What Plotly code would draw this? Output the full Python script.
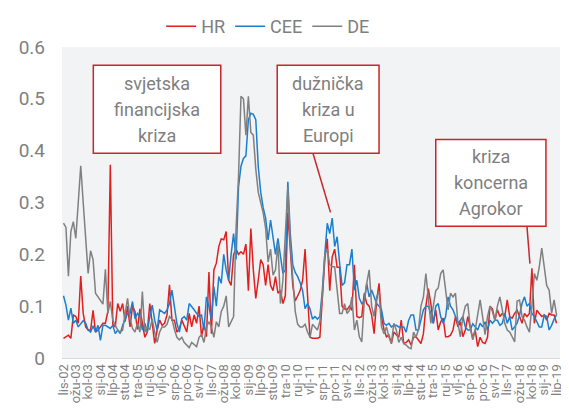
import plotly.graph_objects as go

tick_labels = ["lis-02", "ožu-03", "kol-03", "sij-04", "lip-04", "stu-04", "tra-05", "ruj-05",
               "vlj-06", "srp-06", "pro-06", "svi-07", "lis-07", "ožu-08", "kol-08", "sij-09",
               "lip-09", "stu-09", "tra-10", "ruj-10", "vlj-11", "srp-11", "pro-11", "svi-12",
               "lis-12", "ožu-13", "kol-13", "sij-14", "lip-14", "stu-14", "tra-15", "ruj-15",
               "vlj-16", "srp-16", "pro-16", "svi-17", "lis-17", "ožu-18", "kol-18", "sij-19",
               "lip-19"]

hr = [0.038, 0.041, 0.044, 0.038, 0.083, 0.080, 0.067, 0.158, 0.086, 0.060,
      0.054, 0.054, 0.092, 0.050, 0.054, 0.060, 0.067, 0.067, 0.090, 0.373,
      0.065, 0.060, 0.105, 0.090, 0.105, 0.070, 0.100, 0.060, 0.100, 0.090,
      0.055, 0.095, 0.065, 0.040, 0.050, 0.105, 0.067, 0.028, 0.054, 0.073,
      0.063, 0.067, 0.083, 0.141, 0.073, 0.073, 0.050, 0.057, 0.073, 0.060,
      0.050, 0.086, 0.060, 0.083, 0.067, 0.100, 0.041, 0.067, 0.041, 0.166,
      0.047, 0.170, 0.183, 0.215, 0.230, 0.228, 0.244, 0.150, 0.140, 0.200,
      0.210, 0.200, 0.205, 0.200, 0.220, 0.130, 0.250, 0.170, 0.115, 0.150,
      0.190, 0.180, 0.140, 0.180, 0.140, 0.130, 0.157, 0.125, 0.130, 0.105,
      0.120, 0.280, 0.200, 0.140, 0.110, 0.120, 0.130, 0.150, 0.210, 0.120,
      0.040, 0.038, 0.038, 0.038, 0.040, 0.125, 0.190, 0.230, 0.130, 0.195,
      0.210, 0.175, 0.175, 0.100, 0.095, 0.093, 0.100, 0.092, 0.180, 0.080,
      0.078, 0.080, 0.125, 0.105, 0.100, 0.083, 0.047, 0.110, 0.144, 0.080,
      0.055, 0.041, 0.044, 0.028, 0.050, 0.045, 0.040, 0.073, 0.028, 0.030,
      0.035, 0.025, 0.040, 0.041, 0.035, 0.028, 0.047, 0.100, 0.134, 0.105,
      0.067, 0.093, 0.054, 0.070, 0.077, 0.041, 0.041, 0.044, 0.054, 0.080,
      0.060, 0.070, 0.041, 0.054, 0.080, 0.060, 0.038, 0.054, 0.022, 0.040,
      0.030, 0.028, 0.040, 0.100, 0.095, 0.073, 0.093, 0.080, 0.086, 0.080,
      0.112, 0.080, 0.077, 0.086, 0.092, 0.080, 0.067, 0.086, 0.080, 0.086,
      0.173, 0.067, 0.092, 0.086, 0.080, 0.083, 0.073, 0.086, 0.083, 0.083,
      0.067]

cee = [0.120, 0.102, 0.073, 0.096, 0.067, 0.073, 0.060, 0.067, 0.072, 0.067,
       0.054, 0.050, 0.062, 0.050, 0.063, 0.034, 0.063, 0.063, 0.060, 0.057,
       0.063, 0.047, 0.054, 0.047, 0.063, 0.073, 0.086, 0.086, 0.109, 0.076,
       0.086, 0.080, 0.054, 0.067, 0.050, 0.080, 0.102, 0.073, 0.054, 0.093,
       0.090, 0.086, 0.093, 0.105, 0.131, 0.100, 0.067, 0.050, 0.076, 0.080,
       0.073, 0.105, 0.100, 0.093, 0.086, 0.080, 0.083, 0.054, 0.118, 0.100,
       0.073, 0.138, 0.100, 0.157, 0.144, 0.200, 0.170, 0.150, 0.200, 0.240,
       0.190, 0.330, 0.370, 0.385, 0.390, 0.460, 0.472, 0.470, 0.460, 0.370,
       0.320, 0.290, 0.270, 0.228, 0.266, 0.228, 0.200, 0.231, 0.200, 0.163,
       0.170, 0.340, 0.240, 0.180, 0.165, 0.157, 0.145, 0.130, 0.095, 0.105,
       0.095, 0.075, 0.080, 0.075, 0.080, 0.130, 0.200, 0.260, 0.240, 0.270,
       0.215, 0.234, 0.183, 0.140, 0.145, 0.180, 0.180, 0.210, 0.131, 0.150,
       0.115, 0.105, 0.108, 0.144, 0.118, 0.131, 0.118, 0.105, 0.100, 0.093,
       0.067, 0.063, 0.067, 0.060, 0.063, 0.063, 0.060, 0.060, 0.060, 0.050,
       0.073, 0.083, 0.083, 0.054, 0.054, 0.073, 0.093, 0.100, 0.100, 0.086,
       0.067, 0.100, 0.105, 0.080, 0.067, 0.080, 0.118, 0.100, 0.093, 0.080,
       0.067, 0.073, 0.080, 0.060, 0.054, 0.054, 0.066, 0.060, 0.054, 0.067,
       0.060, 0.070, 0.054, 0.073, 0.067, 0.073, 0.073, 0.063, 0.067, 0.086,
       0.067, 0.080, 0.054, 0.060, 0.067, 0.083, 0.105, 0.118, 0.100, 0.105,
       0.086, 0.080, 0.070, 0.060, 0.060, 0.083, 0.080, 0.054, 0.063, 0.075,
       0.083]

de = [0.260, 0.252, 0.158, 0.244, 0.263, 0.231, 0.300, 0.371, 0.300, 0.240,
      0.163, 0.207, 0.190, 0.125, 0.118, 0.112, 0.104, 0.171, 0.086, 0.109,
      0.073, 0.063, 0.054, 0.050, 0.054, 0.086, 0.115, 0.076, 0.057, 0.050,
      0.067, 0.050, 0.128, 0.050, 0.060, 0.055, 0.075, 0.050, 0.030, 0.050,
      0.060, 0.060, 0.065, 0.080, 0.075, 0.055, 0.040, 0.035, 0.040, 0.030,
      0.025, 0.020, 0.030, 0.025, 0.022, 0.040, 0.045, 0.030, 0.060, 0.070,
      0.060, 0.040, 0.070, 0.060, 0.090, 0.100, 0.120, 0.060, 0.070, 0.080,
      0.250, 0.350, 0.505, 0.500, 0.430, 0.505, 0.435, 0.430, 0.365, 0.320,
      0.300, 0.280, 0.250, 0.185, 0.210, 0.160, 0.170, 0.220, 0.105, 0.150,
      0.240, 0.330, 0.220, 0.150, 0.090, 0.065, 0.060, 0.060, 0.065, 0.050,
      0.040, 0.065, 0.060, 0.054, 0.070, 0.120, 0.200, 0.210, 0.180, 0.176,
      0.176, 0.130, 0.086, 0.086, 0.105, 0.086, 0.092, 0.118, 0.054, 0.073,
      0.041, 0.031, 0.110, 0.144, 0.170, 0.100, 0.080, 0.118, 0.128, 0.060,
      0.047, 0.060, 0.041, 0.028, 0.067, 0.054, 0.030, 0.040, 0.028, 0.025,
      0.020, 0.018, 0.050, 0.040, 0.055, 0.100, 0.118, 0.163, 0.110, 0.067,
      0.100, 0.130, 0.135, 0.163, 0.170, 0.125, 0.093, 0.125, 0.118, 0.125,
      0.067, 0.041, 0.080, 0.100, 0.105, 0.060, 0.035, 0.054, 0.080, 0.112,
      0.080, 0.045, 0.080, 0.100, 0.090, 0.072, 0.100, 0.118, 0.093, 0.067,
      0.054, 0.050, 0.041, 0.031, 0.110, 0.112, 0.080, 0.073, 0.060, 0.050,
      0.100, 0.163, 0.150, 0.176, 0.212, 0.170, 0.140, 0.131, 0.086, 0.112,
      0.083]

idx = list(range(len(hr)))
tick_step = 5
tick_vals = idx[::tick_step]

GRAY = "#7f7f7f"
RED = "#e0201f"
BOX = "#c9252b"
FONT = "Roboto"

fig = go.Figure()
fig.add_trace(go.Scatter(x=idx, y=hr, name="HR", mode="lines", line=dict(color=RED, width=1.5)))
fig.add_trace(go.Scatter(x=idx, y=cee, name="CEE", mode="lines", line=dict(color="#1b7fd0", width=1.5)))
fig.add_trace(go.Scatter(x=idx, y=de, name="DE", mode="lines", line=dict(color="#808080", width=1.5)))

# (x0, x1, y_bottom, y_top, lines)
boxes = [
    (12.1, 63.8, 0.395, 0.565, ["svjetska", "financijska", "kriza"]),
    (86.7, 128.0, 0.395, 0.565, ["dužnička", "kriza u", "Europi"]),
    (151.0, 195.7, 0.254, 0.4217, ["kriza", "koncerna", "Agrokor"]),
]
line_gap = 0.05
for x0, x1, y0, y1, lines in boxes:
    fig.add_shape(type="rect", xref="x", yref="y", x0=x0, x1=x1, y0=y0, y1=y1,
                  line=dict(color=BOX, width=1.5), fillcolor="white", layer="above")
    yc = (y0 + y1) / 2
    for k, t in enumerate(lines):
        fig.add_annotation(x=(x0 + x1) / 2, y=yc + (1 - k) * line_gap, xref="x", yref="y",
                           text=t, showarrow=False,
                           font=dict(family=FONT, size=18, color=GRAY), align="center")

connectors = [(101.2, 0.395, 108.3, 0.281), (188.0, 0.254, 189.2, 0.182)]
for x0, y0, x1, y1 in connectors:
    fig.add_shape(type="line", xref="x", yref="y", x0=x0, y0=y0, x1=x1, y1=y1,
                  line=dict(color=BOX, width=1.5), layer="above")

# The page body has an 8px default margin, so the figure is sized 8px smaller
# and its top/left margins reduced by 8px to land on the 569x408 window.
fig.update_layout(
    width=561, height=400,
    margin=dict(l=54, r=9, t=39, b=50, autoexpand=False),
    paper_bgcolor="white",
    plot_bgcolor="#f2f3f5",
    font=dict(family=FONT, color=GRAY),
    legend=dict(orientation="h", x=0.414, xanchor="center", y=1.0, yref="container",
                yanchor="top", font=dict(size=18, color=GRAY), bgcolor="rgba(0,0,0,0)",
                tracegroupgap=0),
    showlegend=True,
)
fig.update_xaxes(range=[-0.6, 201.4], tickvals=tick_vals, ticktext=tick_labels,
                 tickangle=-90, tickfont=dict(size=13, color=GRAY), showgrid=False,
                 zeroline=False, showline=True, linecolor="#d9d9d9", linewidth=1, ticks="",
                 automargin=False)
fig.update_yaxes(range=[0, 0.6], tickvals=[0, 0.1, 0.2, 0.3, 0.4, 0.5, 0.6],
                 ticktext=["0", "0.1", "0.2", "0.3", "0.4", "0.5", "0.6"],
                 tickfont=dict(size=19, color=GRAY), showgrid=False, zeroline=False,
                 ticks="", ticklabelstandoff=16, automargin=False)

fig.write_html("out.html")
